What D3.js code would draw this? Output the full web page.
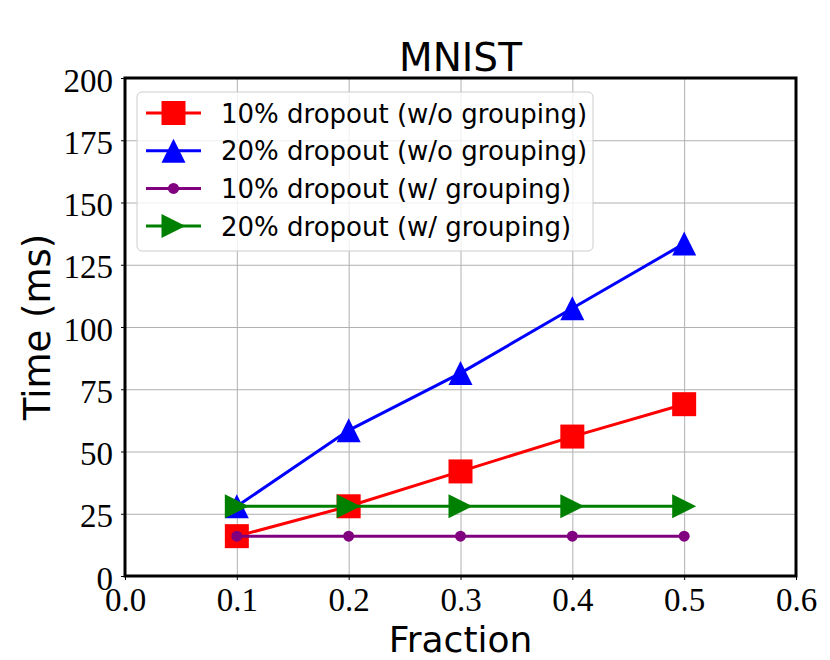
<!DOCTYPE html>
<html>
<head>
<meta charset="utf-8">
<script src="https://cdn.jsdelivr.net/npm/d3@7"></script>
<style>
  body { margin: 0; background: #fff; }
  .tick text { font-family: "Liberation Serif", "Times New Roman", serif; }
</style>
</head>
<body>
<svg id="chart" width="830" height="660"></svg>
<script>
// data
var fractions = [0.1, 0.2, 0.3, 0.4, 0.5];
var dropout10NoGroup = [16, 28, 42, 56, 69];
var dropout20NoGroup = [28, 58.5, 81.5, 107.5, 133.5];
var dropout10Group = [16, 16, 16, 16, 16];
var dropout20Group = [28, 28, 28, 28, 28];
var xTicks = [0.0, 0.1, 0.2, 0.3, 0.4, 0.5, 0.6];
var yTicks = [0, 25, 50, 75, 100, 125, 150, 175, 200];

var seriesNames = ["10% dropout (w/o grouping)", "20% dropout (w/o grouping)", "10% dropout (w/ grouping)", "20% dropout (w/ grouping)"];
var seriesColors = ["#ff0000", "#0000ff", "#800080", "#008000"];
var seriesMarkers = ["square", "triangleUp", "circle", "triangleRight"];
var seriesValues = [dropout10NoGroup, dropout20NoGroup, dropout10Group, dropout20Group];

// plot box (don't call it "top", that's window.top)
var plotLeft = 125, plotRight = 796, plotTop = 78, plotBottom = 576;

var svg = d3.select("#chart");

var x = d3.scaleLinear().domain([0, 0.6]).range([plotLeft, plotRight]);
var y = d3.scaleLinear().domain([0, 200]).range([plotBottom, plotTop]);

// grid
svg.append("g")
   .attr("transform", "translate(0," + plotBottom + ")")
   .call(d3.axisBottom(x).tickValues(xTicks).tickSize(-(plotBottom - plotTop)).tickFormat(""))
   .call(function(g) {
     g.select(".domain").remove();
     g.selectAll("line").attr("stroke", "#b0b0b0").attr("stroke-width", 1);
   });
svg.append("g")
   .attr("transform", "translate(" + plotLeft + ",0)")
   .call(d3.axisLeft(y).tickValues(yTicks).tickSize(-(plotRight - plotLeft)).tickFormat(""))
   .call(function(g) {
     g.select(".domain").remove();
     g.selectAll("line").attr("stroke", "#b0b0b0").attr("stroke-width", 1);
   });

// marker path maker
function markerPath(kind, cx, cy)
{
  var h = 12;
  if (kind === "square")
  {
    return "M" + (cx - h) + "," + (cy - h) + "h" + (2 * h) + "v" + (2 * h) + "h" + (-2 * h) + "Z";
  }
  if (kind === "triangleUp")
  {
    return "M" + cx + "," + (cy - h) + "L" + (cx - h) + "," + (cy + h) + "L" + (cx + h) + "," + (cy + h) + "Z";
  }
  if (kind === "triangleRight")
  {
    return "M" + (cx + h) + "," + cy + "L" + (cx - h) + "," + (cy - h) + "L" + (cx - h) + "," + (cy + h) + "Z";
  }
  var r = 5.5;
  return "M" + (cx + r) + "," + cy + "A" + r + "," + r + " 0 1,1 " + (cx - r) + "," + cy + "A" + r + "," + r + " 0 1,1 " + (cx + r) + "," + cy + "Z";
}

// lines and markers
var line = d3.line().x(function(d) { return x(d[0]); }).y(function(d) { return y(d[1]); });

seriesValues.forEach(function(vals, i)
{
  var pts = fractions.map(function(f, j) { return [f, vals[j]]; });
  var g = svg.append("g");
  g.append("path")
   .attr("d", line(pts))
   .attr("fill", "none")
   .attr("stroke", seriesColors[i])
   .attr("stroke-width", 3);
  g.selectAll("path.mk").data(pts).enter().append("path")
   .attr("class", "mk")
   .attr("d", function(d) { return markerPath(seriesMarkers[i], x(d[0]), y(d[1])); })
   .attr("fill", seriesColors[i]);
});

// axes with labels
var xAxis = svg.append("g")
   .attr("transform", "translate(0," + plotBottom + ")")
   .call(d3.axisBottom(x).tickValues(xTicks).tickSize(4).tickPadding(8).tickFormat(d3.format(".1f")));
xAxis.select(".domain").remove();
xAxis.selectAll("text").attr("font-size", 33).attr("fill", "#000").attr("dy", "0.71em");

var yAxis = svg.append("g")
   .attr("transform", "translate(" + plotLeft + ",0)")
   .call(d3.axisLeft(y).tickValues(yTicks).tickSize(4).tickPadding(8));
yAxis.select(".domain").remove();
yAxis.selectAll("text").attr("font-size", 33).attr("fill", "#000").attr("dy", "0.4em");

// frame
svg.append("rect")
   .attr("x", plotLeft).attr("y", plotTop)
   .attr("width", plotRight - plotLeft).attr("height", plotBottom - plotTop)
   .attr("fill", "none").attr("stroke", "#000").attr("stroke-width", 3);

// titles
svg.append("text")
   .attr("x", (plotLeft + plotRight) / 2).attr("y", 71)
   .attr("text-anchor", "middle")
   .attr("font-family", "DejaVu Sans").attr("font-size", 39)
   .text("MNIST");

svg.append("text")
   .attr("x", (plotLeft + plotRight) / 2).attr("y", 652)
   .attr("text-anchor", "middle")
   .attr("font-family", "DejaVu Sans").attr("font-size", 36)
   .text("Fraction");

svg.append("text")
   .attr("transform", "translate(50," + (plotTop + plotBottom) / 2 + ") rotate(-90)")
   .attr("text-anchor", "middle")
   .attr("font-family", "DejaVu Sans").attr("font-size", 37)
   .text("Time (ms)");

// legend
var legend = svg.append("g");
legend.append("rect")
   .attr("x", 137).attr("y", 92)
   .attr("width", 456).attr("height", 159)
   .attr("rx", 5)
   .attr("fill", "#fff").attr("fill-opacity", 0.8)
   .attr("stroke", "#cccccc").attr("stroke-width", 1);

seriesNames.forEach(function(name, i)
{
  var ry = 113 + i * 37.7;
  legend.append("line")
     .attr("x1", 146).attr("x2", 201).attr("y1", ry).attr("y2", ry)
     .attr("stroke", seriesColors[i]).attr("stroke-width", 3);
  legend.append("path")
     .attr("d", markerPath(seriesMarkers[i], 173.5, ry))
     .attr("fill", seriesColors[i]);
  legend.append("text")
     .attr("x", 221).attr("y", ry + 9.5)
     .attr("font-family", "DejaVu Sans").attr("font-size", 26)
     .text(name);
});
</script>
</body>
</html>
